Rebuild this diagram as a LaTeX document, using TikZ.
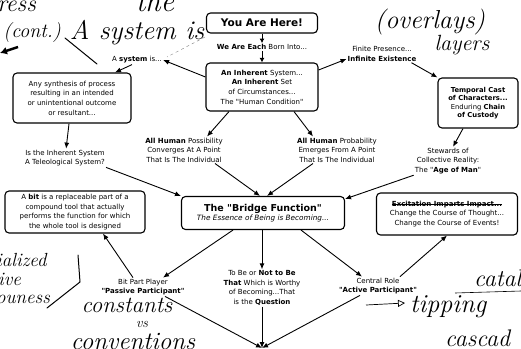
\documentclass[tikz,border=0pt]{standalone}
\usepackage{fontspec}
\usetikzlibrary{arrows.meta}
\newfontfamily\boxfont{DejaVu Sans}
\newcommand\strikeit[1]{\leavevmode\sbox0{#1}\rlap{\rule[0.3em]{\wd0}{0.7pt}}\usebox0}
\begin{document}
\begin{tikzpicture}[x=1pt,y=-1pt,
  box/.style={draw, line width=1.1pt, rounded corners=4pt, align=center, inner sep=0pt, font=\boxfont\fontsize{7}{9.6}\selectfont},
  lbl/.style={align=center, inner sep=1pt, font=\boxfont\fontsize{7}{9.6}\selectfont},
  arr/.style={-{Latex[length=6pt,width=5pt]}, line width=0.9pt},
  sarr/.style={-{Latex[length=4.5pt,width=5pt]}, line width=0.9pt},
  hand/.style={inner sep=0pt, font=\itshape\fontsize{24}{24}\selectfont},
  stroke/.style={line width=1pt, line cap=round}]
\useasboundingbox (0,0) rectangle (521,348);
\clip (0,0) rectangle (521,348);

% handwriting overlays
\node[hand, anchor=base west] (hwa) at (-3,12) {ress};
\node[hand, font=\itshape\fontsize{20}{20}\selectfont] (hwb) at (32,33) {(cont.)};
\node[hand, font=\itshape\fontsize{27}{27}\selectfont] (hwc) at (137,33) {A system is};
\node[hand, anchor=base, font=\itshape\fontsize{30}{30}\selectfont] (hwd) at (155,12) {the};
\node[hand, font=\itshape\fontsize{26}{26}\selectfont] (hwe) at (430,22) {(overlays)};
\node[hand, font=\itshape\fontsize{22}{22}\selectfont] (hwf) at (462,45) {layers};
\node[hand, anchor=base west, font=\itshape\fontsize{19}{19}\selectfont] (hwg) at (-4,266) {ialized};
\node[hand, anchor=base west, font=\itshape\fontsize{19}{19}\selectfont] (hwh) at (-2,285) {ive};
\node[hand, anchor=base west, font=\itshape\fontsize{19}{19}\selectfont] (hwi) at (-4,303) {ouness};
\node[hand, anchor=base, font=\itshape\fontsize{23}{23}\selectfont] (hwj) at (127,312) {constants};
\node[hand, anchor=base, font=\itshape\fontsize{14}{14}\selectfont] (hwk) at (142,327) {vs};
\node[hand, anchor=base, font=\itshape\fontsize{25}{25}\selectfont] (hwl) at (133,349) {conventions};
\node[hand, anchor=base west] (hwm) at (474,286) {catal};
\node[hand, anchor=base west, font=\itshape\fontsize{26}{26}\selectfont] (hwn) at (410,312) {tipping};
\node[hand, anchor=base west] (hwo) at (445,346) {cascad};

\coordinate (s1a) at (65,38); \coordinate (s1b) at (97,64);
\draw[stroke] (s1a) -- (s1b);
\coordinate (s2a) at (205,37); \coordinate (s2b) at (167,57);
\draw[line width=0.4pt, gray, dashed] (s2a) -- (s2b);
\coordinate (s3a) at (78,255); \coordinate (s3b) at (80,282); \coordinate (s3c) at (47,308);
\draw[stroke] (s3a) -- (s3b) -- (s3c);
\coordinate (s4a) at (18,47); \coordinate (s4b) at (0,53);
\draw[line width=2.5pt, -{Latex[length=7pt,width=8pt]}] (s4a) -- (s4b);
\coordinate (s5a) at (366,305); \coordinate (s5b) at (405,303);
\draw[line width=0.7pt, -{Triangle[open,length=7pt,width=7pt]}] (s5a) -- (s5b);
\coordinate (s6a) at (455,293); \coordinate (s6b) at (521,291);
\draw[line width=0.6pt] (s6a) -- (s6b);

% diagram nodes
\node[box, minimum width=111pt, minimum height=20pt, font=\boxfont\bfseries\fontsize{10.5}{12}\selectfont] (here) at (262,23) {You Are Here!};
\node[lbl] (born) at (262,47) {\textbf{We Are Each} Born Into...};
\node[box, minimum width=112pt, minimum height=48pt] (inh) at (262,87) {\textbf{An Inherent} System...\\\textbf{An Inherent} Set\\of Circumstances...\\The "Human Condition"};
\node[lbl] (asys) at (137,60) {A \textbf{system} is...};
\node[box, minimum width=118pt, minimum height=50pt] (syn) at (72,98) {Any synthesis of process\\resulting in an intended\\or unintentional outcome\\or resultant...};
\node[lbl] (tel) at (65,158) {Is the Inherent System\\A Teleological System?};
\node[lbl] (finite) at (382,54) {Finite Presence...\\\textbf{Infinite Existence}};
\node[box, minimum width=80pt, minimum height=50pt, font=\boxfont\fontsize{6.8}{8.3}\selectfont] (temp) at (478,103) {\textbf{Temporal Cast}\\\textbf{of Characters...}\\Enduring \textbf{Chain}\\\textbf{of Custody}};
\node[lbl] (poss) at (184,150) {\textbf{All Human} Possibility\\Converges At A Point\\That Is The Individual};
\node[lbl] (prob) at (337,150) {\textbf{All Human} Probability\\Emerges From A Point\\That Is The Individual};
\node[lbl] (stew) at (448,161) {Stewards of\\Collective Reality:\\The "\textbf{Age of Man}"};
\node[box, minimum width=163pt, minimum height=33pt] (bridge) at (263,213) {{\bfseries\fontsize{9.5}{11}\selectfont The "Bridge Function"}\\{\itshape\fontsize{7.3}{9}\selectfont The Essence of Being is Becoming...}};
\node[box, minimum width=140pt, minimum height=42pt] (bit) at (75,212) {A \textbf{bit} is a replaceable part of a\\compound tool that actually\\performs the function for which\\the whole tool is designed};
\node[box, minimum width=141pt, minimum height=42pt] (exc) at (447,214) {\strikeit{\textbf{Excitation Imparts Impact...}}\\Change the Course of Thought...\\Change the Course of Events!};
\node[lbl] (bp) at (143,287) {Bit Part Player\\\textbf{"Passive Participant"}};
\node[lbl] (tobe) at (262,288) {To Be or \textbf{Not to Be}\\\textbf{That} Which is Worthy\\of Becoming...That\\is the \textbf{Question}};
\node[lbl] (cent) at (378,286) {Central Role\\\textbf{"Active Participant"}};
\coordinate (bot) at (262,348);

% connectors
\draw[sarr] (here) -- (born);
\draw[sarr] (born) -- (inh);
\draw[arr] ([yshift=10pt]inh.west) -- (asys.east);
\draw[arr] ([xshift=-5pt]asys.south) -- ([xshift=43pt]syn.north);
\draw[arr] (syn) -- (tel);
\draw[arr] (tel.south east) -- (bridge.north west);
\draw[arr] ([yshift=17pt]inh.east) -- ([yshift=-5pt]finite.west);
\draw[arr] ([xshift=-6pt]finite.south east) -- (temp.north west);
\draw[arr] ([xshift=-15pt]temp.south) -- ([xshift=5pt]stew.north);
\draw[arr] (stew.south west) -- ([yshift=-3pt]bridge.north east);
\draw[arr] ([xshift=-33pt]inh.south) -- ([xshift=23pt]poss.north);
\draw[arr] ([xshift=32pt]inh.south) -- ([xshift=-24pt]prob.north);
\draw[arr] ([xshift=31pt]poss.south) -- ([xshift=-3pt]bridge.north);
\draw[arr] ([xshift=-24pt]prob.south) -- ([xshift=4pt]bridge.north);
\draw[arr] ([xshift=-30pt]bridge.south) -- ([xshift=20pt]bp.north);
\draw[arr] (bridge.south -| tobe.north) -- (tobe.north);
\draw[arr] ([xshift=38pt]bridge.south) -- ([xshift=-16pt]cent.north);
\draw[arr] ([xshift=-10pt]bp.north) -- ([xshift=28pt]bit.south);
\draw[arr] ([xshift=22pt]cent.north) -- (exc.south);
\draw[arr] ([xshift=22pt]bp.south) -- (bot);
\draw[arr] (tobe.south) -- (bot);
\draw[arr] ([xshift=-18pt]cent.south) -- (bot);
\end{tikzpicture}
\end{document}
